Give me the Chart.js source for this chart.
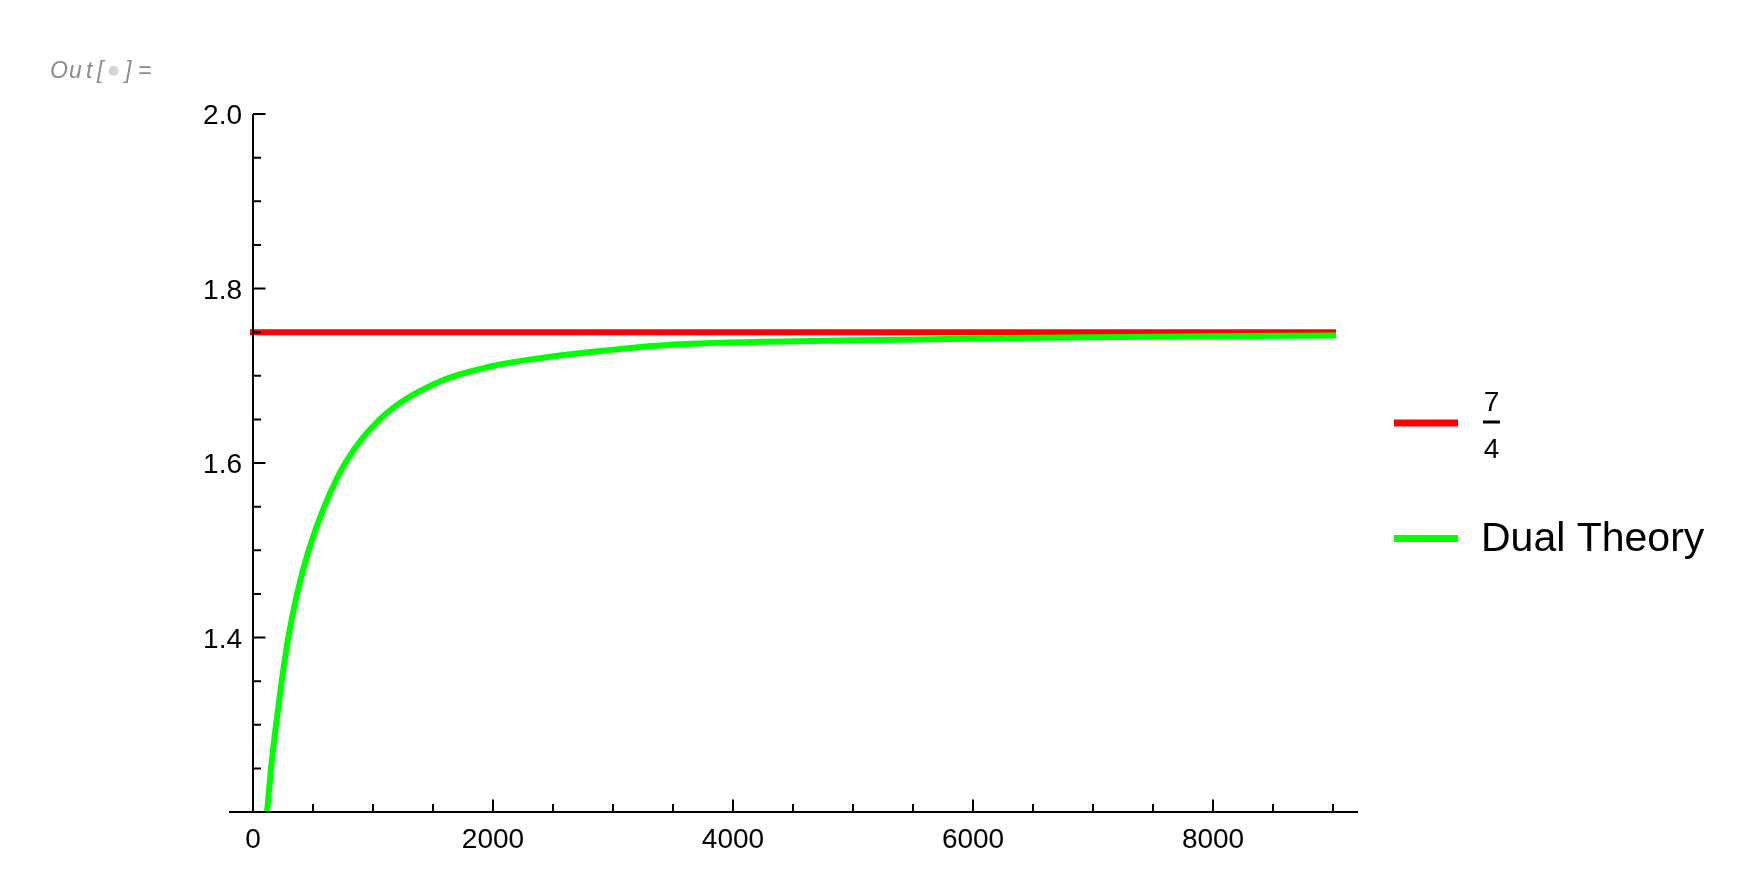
<!DOCTYPE html>
<html>
<head>
<meta charset="utf-8">
<title>Dual Theory</title>
<script src="https://cdn.jsdelivr.net/npm/chart.js@4.4.1/dist/chart.umd.min.js"></script>
<style>
    body { margin: 0; background: #fff; }
    #wrap { width: 1742px; height: 882px; }
</style>
</head>
<body>
<div id="wrap"><canvas id="plot" width="1742" height="882"></canvas></div>
<script>
// データ
const seriesNames = ['7/4', 'Dual Theory'];
const seriesColors = ['#ff0000', '#00ff00'];

// 7/4 constant line
const limitX = [0, 9000];
const limitY = [1.75, 1.75];

// Dual Theory curve
const dualX = [100, 117, 150, 192, 239, 294, 367, 464, 594, 769, 1056, 1500, 1975, 2392, 2808, 3419, 4753, 6311, 7892, 9000];
const dualY = [1.175, 1.20, 1.25, 1.30, 1.35, 1.40, 1.45, 1.50, 1.55, 1.60, 1.65, 1.690, 1.7106, 1.7202, 1.7271, 1.7350, 1.7400, 1.7432, 1.7452, 1.7462];

// ticks
const xTickLabels = [0, 2000, 4000, 6000, 8000];
const xMinorTicks = [500, 1000, 1500, 2500, 3000, 3500, 4500, 5000, 5500, 6500, 7000, 7500, 8500, 9000];
const yTickLabels = [1.4, 1.6, 1.8, 2.0];
const yMinorTicks = [1.25, 1.30, 1.35, 1.45, 1.50, 1.55, 1.65, 1.70, 1.75, 1.85, 1.90, 1.95];

const FONT = '"Liberation Sans", Arial, sans-serif';

function toPoints(xs, ys) {
    return xs.map((x, i) => ({ x: x, y: ys[i] }));
}

// Mathematica風の軸を描く
const mathAxes = {
    id: 'mathAxes',
    afterDatasetsDraw(chart) {
        const { ctx, chartArea, scales } = chart;
        const xs = scales.x, ys = scales.y;
        const x0 = xs.getPixelForValue(0);
        const yb = chartArea.bottom;

        ctx.save();
        ctx.strokeStyle = '#000';
        ctx.lineWidth = 2;
        ctx.beginPath();
        // x axis
        ctx.moveTo(chartArea.left, yb);
        ctx.lineTo(chartArea.right, yb);
        // y axis
        ctx.moveTo(x0, yb);
        ctx.lineTo(x0, ys.getPixelForValue(2.0));
        // ticks (inward)
        xTickLabels.forEach(v => {
            const px = xs.getPixelForValue(v);
            ctx.moveTo(px, yb);
            ctx.lineTo(px, yb - 12.5);
        });
        xMinorTicks.forEach(v => {
            const px = xs.getPixelForValue(v);
            ctx.moveTo(px, yb);
            ctx.lineTo(px, yb - 8);
        });
        yTickLabels.forEach(v => {
            const py = ys.getPixelForValue(v);
            ctx.moveTo(x0, py);
            ctx.lineTo(x0 + 12.5, py);
        });
        yMinorTicks.forEach(v => {
            const py = ys.getPixelForValue(v);
            ctx.moveTo(x0, py);
            ctx.lineTo(x0 + 8, py);
        });
        ctx.stroke();

        // labels
        ctx.fillStyle = '#000';
        ctx.font = '28px ' + FONT;
        ctx.textBaseline = 'alphabetic';
        ctx.textAlign = 'center';
        xTickLabels.forEach(v => {
            ctx.fillText(String(v), xs.getPixelForValue(v), yb + 36);
        });
        ctx.textAlign = 'right';
        yTickLabels.forEach(v => {
            ctx.fillText(v.toFixed(1), x0 - 11, ys.getPixelForValue(v) + 10);
        });
        ctx.restore();
    },
    afterDraw(chart) {
        const ctx = chart.ctx;
        ctx.save();

        // Out[ ]= ラベル
        ctx.font = 'italic 23px ' + FONT;
        ctx.fillStyle = '#8c8c8c';
        ctx.textBaseline = 'alphabetic';
        ctx.textAlign = 'left';
        [['O', 50], ['u', 69], ['t', 86], ['[', 97], [']', 125], ['=', 138]].forEach(c => {
            ctx.fillText(c[0], c[1], 78);
        });
        ctx.fillStyle = '#d4d4d4';
        ctx.beginPath();
        ctx.arc(113.5, 71, 5, 0, Math.PI * 2);
        ctx.fill();

        // legend
        const rows = [423, 538.5];
        chart.data.datasets.slice().sort((a, b) => seriesNames.indexOf(a.label) - seriesNames.indexOf(b.label)).forEach((ds, i) => {
            const cy = rows[i];
            ctx.fillStyle = ds.borderColor;
            ctx.fillRect(1394, cy - 3.5, 64, 7);
            ctx.fillStyle = '#000';
            if (ds.label.indexOf('/') >= 0) {
                const parts = ds.label.split('/');
                ctx.font = '28px ' + FONT;
                ctx.textAlign = 'center';
                ctx.fillText(parts[0], 1491.5, 411);
                ctx.fillRect(1483, cy - 2.5, 17, 3);
                ctx.fillText(parts[1], 1491.5, 458);
            } else {
                ctx.font = '41px ' + FONT;
                ctx.textAlign = 'left';
                ctx.fillText(ds.label, 1481, 551);
            }
        });
        ctx.restore();
    }
};

const ctx = document.getElementById('plot').getContext('2d');
const plot = new Chart(ctx, {
    type: 'line',
    data: {
        datasets: [
            {
                label: seriesNames[1],
                data: toPoints(dualX, dualY),
                borderColor: seriesColors[1],
                borderWidth: 6,
                borderCapStyle: 'square',
                pointRadius: 0,
                cubicInterpolationMode: 'monotone',
                clip: { left: 10, top: 10, right: 10, bottom: 0 },
                order: 0
            },
            {
                label: seriesNames[0],
                data: toPoints(limitX, limitY),
                borderColor: seriesColors[0],
                borderWidth: 6,
                borderCapStyle: 'square',
                pointRadius: 0,
                clip: false,
                order: 1
            }
        ]
    },
    options: {
        responsive: false,
        animation: false,
        layout: { padding: { left: 229, right: 384, top: 114, bottom: 70 } },
        scales: {
            x: { type: 'linear', min: -200, max: 9208, display: false },
            y: { type: 'linear', min: 1.2, max: 2.0, display: false }
        },
        plugins: {
            legend: { display: false },
            tooltip: { enabled: false }
        }
    },
    plugins: [mathAxes]
});
</script>
</body>
</html>
